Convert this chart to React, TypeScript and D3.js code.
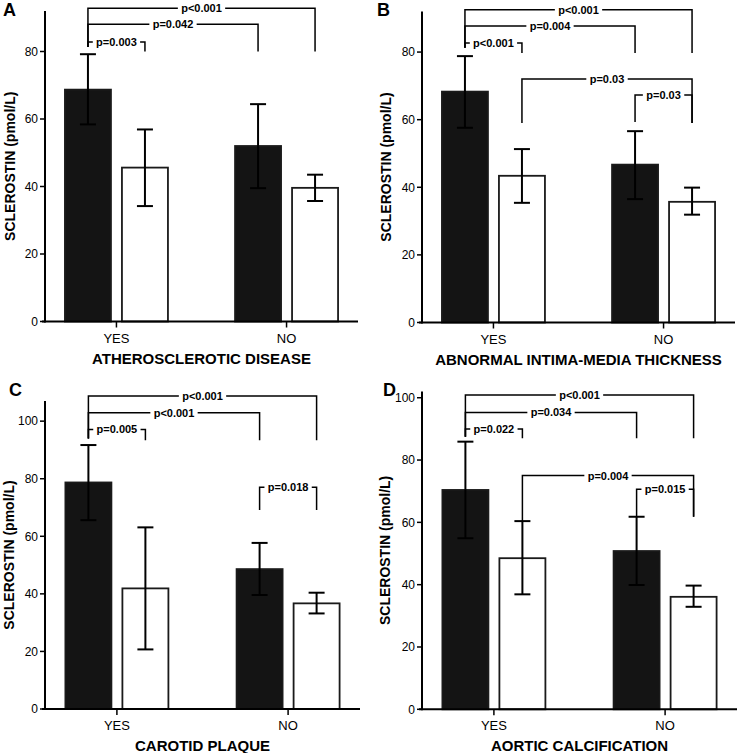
import * as d3 from "d3";
import React from "react";

// bar order inside every panel: [YES black, YES white, NO black, NO white]
const groups = ["YES", "NO"];
const fills = ["black", "white"];
const panelLetters = ["A", "B", "C", "D"];
const xTitles = [
    "ATHEROSCLEROTIC DISEASE",
    "ABNORMAL INTIMA-MEDIA THICKNESS",
    "CAROTID PLAQUE",
    "AORTIC CALCIFICATION",
];
const yTitle = "SCLEROSTIN (pmol/L)";
const yMaxes = [92, 92, 107, 102];
const ticksAB = [0, 20, 40, 60, 80];
const ticksCD = [0, 20, 40, 60, 80, 100];

const meansA = [68.7, 45.6, 52.0, 39.6];
const highA = [79.2, 56.9, 64.4, 43.5];
const lowA = [58.4, 34.2, 39.5, 35.7];

const meansB = [68.3, 43.4, 46.7, 35.7];
const highB = [78.8, 51.3, 56.6, 39.9];
const lowB = [57.6, 35.4, 36.5, 31.9];

const meansC = [78.7, 41.9, 48.6, 36.7];
const highC = [91.7, 63.1, 57.7, 40.4];
const lowC = [65.6, 20.7, 39.6, 33.2];

const meansD = [70.4, 48.5, 50.8, 36.1];
const highD = [85.9, 60.4, 61.8, 39.7];
const lowD = [54.9, 36.9, 39.9, 32.9];

// [from bar, to bar, level, left end, right end, label]
type bracket = [number, number, number, number, number, string];
const bracketsA: bracket[] = [
    [0, 3, 92.8, 81.3, 80, "p<0.001"],
    [0, 2, 88.1, 81.3, 80, "p=0.042"],
    [0, 1, 82.8, 81.3, 80, "p=0.003"],
];
const bracketsB: bracket[] = [
    [0, 3, 92.5, 81.3, 79.7, "p<0.001"],
    [0, 2, 87.7, 81.3, 79.7, "p=0.004"],
    [0, 1, 82.7, 81.3, 79.7, "p<0.001"],
    [1, 3, 72.0, 59.0, 59.0, "p=0.03"],
    [2, 3, 67.3, 59.3, 59.0, "p=0.03"],
];
const bracketsC: bracket[] = [
    [0, 3, 108.7, 94.0, 93.4, "p<0.001"],
    [0, 2, 102.9, 94.0, 93.4, "p<0.001"],
    [0, 1, 97.1, 94.0, 93.4, "p=0.005"],
    [2, 3, 77.0, 69.1, 69.1, "p=0.018"],
];
const bracketsD: bracket[] = [
    [0, 3, 100.9, 87.5, 87.0, "p<0.001"],
    [0, 2, 95.3, 87.5, 87.0, "p=0.034"],
    [0, 1, 90.0, 87.5, 87.0, "p=0.022"],
    [1, 3, 75.0, 60.2, 61.8, "p=0.004"],
    [2, 3, 70.6, 61.8, 61.8, "p=0.015"],
];

const panels = [
    { means: meansA, high: highA, low: lowA, brackets: bracketsA, ticks: ticksAB },
    { means: meansB, high: highB, low: lowB, brackets: bracketsB, ticks: ticksAB },
    { means: meansC, high: highC, low: lowC, brackets: bracketsC, ticks: ticksCD },
    { means: meansD, high: highD, low: lowD, brackets: bracketsD, ticks: ticksCD },
];

// pixel frame of each panel's axes
const FRAMES = [
    { x0: 45, x1: 358, y0: 11, y1: 321.5, letterX: 3, letterY: 16, titleX: 10 },
    { x0: 422, x1: 735, y0: 11.5, y1: 322.5, letterX: 377, letterY: 16, titleX: 386 },
    { x0: 45, x1: 360, y0: 401, y1: 709, letterX: 9, letterY: 396, titleX: 9 },
    { x0: 422, x1: 737, y0: 391.5, y1: 709.3, letterX: 383, letterY: 396, titleX: 385 },
];

const FONT = "'Liberation Sans', Arial, Helvetica, sans-serif";

const Panel: React.FC<{ idx: number }> = ({ idx }) => {
    const p = panels[idx];
    const f = FRAMES[idx];

    const yScale = d3.scaleLinear().domain([0, yMaxes[idx]]).range([f.y1, f.y0]);
    const groupScale = d3.scalePoint<string>().domain(groups).range([f.x0, f.x1]).padding(0.42);
    const barScale = d3.scaleBand<string>().domain(fills).range([-51.5, 51.5]).paddingInner(0.193);
    const bw = barScale.bandwidth();

    const barX = (i: number) =>
        (groupScale(groups[Math.floor(i / 2)]) || 0) + (barScale(fills[i % 2]) || 0);
    const barCenter = (i: number) => barX(i) + bw / 2;

    return (
        <g>
            {/* bars */}
            {p.means.map((m, i) => (
                <rect
                    key={"b" + i}
                    x={barX(i)}
                    y={yScale(m)}
                    width={bw}
                    height={yScale(0) - yScale(m)}
                    fill={i % 2 === 0 ? "#141414" : "#ffffff"}
                    stroke="#1a1a1a"
                    strokeWidth={1.8}
                />
            ))}
            {/* error bars */}
            {p.means.map((m, i) => {
                const cx = barCenter(i);
                return (
                    <g key={"e" + i} stroke="#000" strokeWidth={2}>
                        <line x1={cx} x2={cx} y1={yScale(p.high[i])} y2={yScale(p.low[i])} />
                        <line x1={cx - 8} x2={cx + 8} y1={yScale(p.high[i])} y2={yScale(p.high[i])} />
                        <line x1={cx - 8} x2={cx + 8} y1={yScale(p.low[i])} y2={yScale(p.low[i])} />
                    </g>
                );
            })}
            {/* axes */}
            <line x1={f.x0} x2={f.x0} y1={f.y0} y2={f.y1 + 1} stroke="#000" strokeWidth={2} />
            <line x1={f.x0 - 3} x2={f.x1} y1={f.y1} y2={f.y1} stroke="#000" strokeWidth={2} />
            {p.ticks.map((t) => (
                <g key={"t" + t}>
                    <line x1={f.x0 - 5} x2={f.x0} y1={yScale(t)} y2={yScale(t)} stroke="#000" strokeWidth={1.5} />
                    <text
                        x={f.x0 - 7}
                        y={yScale(t)}
                        dy="0.36em"
                        textAnchor="end"
                        fontSize={12}
                        fontFamily={FONT}
                    >
                        {t}
                    </text>
                </g>
            ))}
            {groups.map((g) => (
                <g key={g}>
                    <line
                        x1={groupScale(g)}
                        x2={groupScale(g)}
                        y1={f.y1}
                        y2={f.y1 + 6}
                        stroke="#000"
                        strokeWidth={1.5}
                    />
                    <text
                        x={groupScale(g)}
                        y={f.y1 + 21}
                        textAnchor="middle"
                        fontSize={13}
                        fontFamily={FONT}
                    >
                        {g}
                    </text>
                </g>
            ))}
            <text
                x={(f.x0 + f.x1) / 2}
                y={f.y1 + 42}
                textAnchor="middle"
                fontSize={15}
                fontWeight="bold"
                fontFamily={FONT}
            >
                {xTitles[idx]}
            </text>
            <text
                transform={`translate(${f.titleX},${(f.y0 + f.y1) / 2}) rotate(-90)`}
                dy="0.36em"
                textAnchor="middle"
                fontSize={14}
                fontWeight="bold"
                fontFamily={FONT}
            >
                {yTitle}
            </text>
            <text x={f.letterX} y={f.letterY} fontSize={18} fontWeight="bold" fontFamily={FONT}>
                {panelLetters[idx]}
            </text>
            {/* significance brackets */}
            {p.brackets.map(([a, b, lvl, le, re, label], k) => {
                const xa = barCenter(a);
                const xb = barCenter(b);
                const y = yScale(lvl);
                const mid = (xa + xb) / 2;
                const tw = label.length * 5.9 + 6;
                return (
                    <g key={"k" + k}>
                        <path
                            d={`M${xa},${yScale(le)}V${y}H${xb}V${yScale(re)}`}
                            fill="none"
                            stroke="#000"
                            strokeWidth={1.5}
                        />
                        <rect x={mid - tw / 2} y={y - 6} width={tw} height={12} fill="#fff" />
                        <text
                            x={mid}
                            y={y}
                            dy="0.36em"
                            textAnchor="middle"
                            fontSize={11}
                            fontWeight="bold"
                            fontFamily={FONT}
                        >
                            {label}
                        </text>
                    </g>
                );
            })}
        </g>
    );
};

const App: React.FC = () => {
    return (
        <svg
            width={739}
            height={753}
            style={{ position: "absolute", left: 0, top: 0, background: "#fff" }}
        >
            {[0, 1, 2, 3].map((i) => (
                <Panel key={i} idx={i} />
            ))}
        </svg>
    );
};

export default App;
